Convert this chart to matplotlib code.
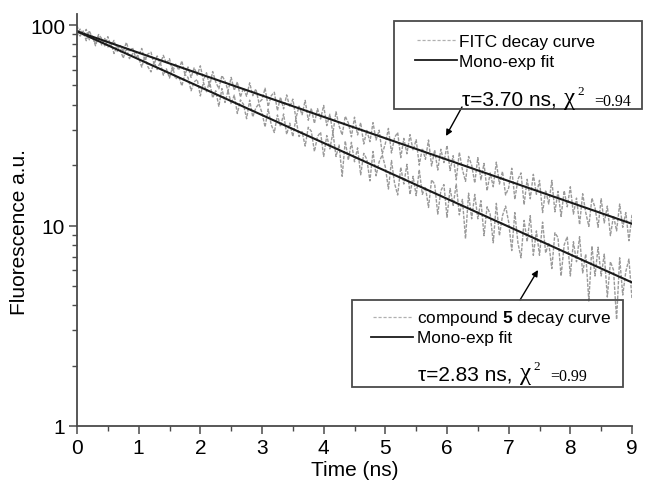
import numpy as np
import matplotlib
matplotlib.use("Agg")
import matplotlib.pyplot as plt
from matplotlib.patches import Rectangle
from matplotlib.lines import Line2D
from matplotlib.ticker import LogLocator, FixedLocator, NullFormatter, FuncFormatter

# ---- data -----------------------------------------------------------------
time_start, time_end = 0.0, 9.0

# FITC decay trace, one value every 0.05 ns
fitc_decay = [
    99.5, 88.0, 93.4, 83.5, 93.7, 85.9, 81.1, 89.7, 85.7, 78.7,
    87.5, 78.5, 83.8, 73.8, 79.0, 73.7, 81.9, 73.5, 77.2, 69.1,
    70.7, 76.4, 66.5, 71.7, 73.2, 63.7, 70.1, 64.0, 70.6, 64.2,
    67.9, 58.5, 63.8, 59.6, 66.2, 56.7, 61.8, 54.8, 61.2, 56.2,
    62.6, 52.8, 57.8, 49.4, 58.6, 52.0, 48.1, 56.0, 52.6, 46.9,
    54.8, 47.2, 52.0, 43.7, 48.5, 44.1, 51.5, 44.4, 48.0, 41.0,
    42.5, 48.4, 39.2, 44.4, 46.2, 37.4, 43.7, 38.2, 44.8, 39.0,
    42.7, 34.2, 39.4, 35.7, 42.1, 33.5, 38.4, 32.3, 38.3, 34.0,
    39.7, 31.5, 35.9, 28.9, 36.9, 31.4, 28.3, 35.1, 32.5, 27.7,
    34.7, 28.3, 32.6, 25.5, 29.8, 26.2, 32.6, 26.7, 29.9, 22.8,
    25.6, 30.5, 23.0, 27.5, 29.1, 21.8, 27.2, 22.8, 28.4, 23.7,
    26.8, 20.0, 24.3, 21.4, 26.7, 19.8, 23.8, 18.9, 24.0, 20.6,
    25.1, 18.8, 22.3, 16.9, 23.2, 19.0, 16.6, 22.1, 20.0, 16.3,
    21.8, 16.9, 20.4, 14.9, 18.3, 15.6, 20.7, 16.1, 18.6, 14.2,
    15.4, 19.3, 13.5, 17.0, 18.3, 12.7, 17.0, 13.6, 18.0, 14.3,
    16.8, 11.6, 15.0, 12.8, 16.8, 11.7, 14.8, 11.1, 14.9, 12.4,
    15.6, 11.4, 13.7, 10.1, 14.4, 11.6, 9.9, 13.7, 12.3, 9.8,
    13.6, 10.3, 12.5, 8.9, 11.2, 9.4, 12.8, 9.8, 11.6, 8.4,
    11.3,
]

# compound 5 decay trace, one value every 0.05 ns
cmpd_decay = [
    87.8, 95.4, 88.9, 95.1, 84.4, 87.9, 78.8, 88.0, 79.6, 85.7,
    77.5, 81.8, 72.1, 78.3, 75.5, 68.3, 76.7, 68.0, 71.8, 73.5,
    68.6, 61.7, 69.7, 61.9, 58.4, 65.5, 60.0, 65.3, 56.2, 60.4,
    54.4, 61.8, 53.8, 55.5, 49.7, 56.7, 54.8, 47.0, 52.1, 53.5,
    44.3, 51.8, 46.5, 52.4, 43.3, 47.0, 39.3, 48.2, 41.1, 47.1,
    40.3, 44.7, 36.2, 42.3, 40.2, 34.1, 42.2, 34.8, 38.6, 40.5,
    36.5, 31.0, 38.1, 31.8, 29.1, 35.6, 31.1, 36.0, 28.5, 32.4,
    27.8, 34.1, 27.8, 29.4, 24.9, 30.9, 29.5, 23.4, 27.8, 29.2,
    22.1, 28.1, 24.1, 29.1, 22.1, 25.2, 17.6, 26.4, 21.2, 26.0,
    20.8, 24.4, 17.9, 22.9, 21.4, 16.7, 23.4, 17.7, 20.8, 22.5,
    19.6, 15.2, 21.1, 16.2, 14.2, 19.5, 16.1, 20.2, 14.3, 17.6,
    14.1, 19.0, 14.3, 15.6, 12.3, 16.9, 16.1, 11.4, 14.9, 16.0,
    11.0, 15.3, 12.6, 16.1, 11.3, 13.5, 8.6, 14.5, 10.8, 14.3,
    10.8, 13.3, 8.9, 12.4, 11.4, 8.2, 12.9, 8.9, 11.2, 12.5,
    10.4, 7.5, 11.6, 8.2, 6.9, 10.6, 8.3, 11.2, 7.1, 9.4,
    7.1, 10.4, 7.3, 8.2, 6.1, 9.2, 8.7, 5.6, 8.0, 8.8,
    5.6, 8.3, 6.6, 8.8, 5.8, 7.2, 4.2, 7.9, 5.6, 7.8,
    5.6, 7.2, 4.4, 6.6, 6.0, 3.4, 6.9, 4.5, 5.9, 6.8,
    4.3,
]

# mono-exponential fits: straight lines on the log axis, end points only
fit_time = [0.0, 9.0]
fitc_fit = [93.0, 10.2]
cmpd_fit = [93.0, 5.2]

x_ticks = [0, 1, 2, 3, 4, 5, 6, 7, 8, 9]
y_ticks = [1, 10, 100]

fitc_label = "FITC decay curve"
cmpd_label = r"compound $\mathbf{5}$ decay curve"
fit_label = "Mono-exp fit"
fitc_tau, fitc_chi = "\u03c4=3.70 ns,", "=0.94"
cmpd_tau, cmpd_chi = "\u03c4=2.83 ns,", "=0.99"

# ---- style ----------------------------------------------------------------
plt.rcParams["font.family"] = ["Liberation Sans", "DejaVu Sans"]
plt.rcParams["mathtext.fontset"] = "custom"
plt.rcParams["mathtext.rm"] = "Liberation Sans"
plt.rcParams["mathtext.bf"] = "Liberation Sans:bold"

AXIS_GREY = "#4a4a4a"
DATA_GREY = "#9a9a9a"
FIT_BLACK = "#1a1a1a"
W, H = 646, 481

fig = plt.figure(figsize=(W / 100, H / 100), dpi=100)
ax = fig.add_axes([77 / W, 1 - 427 / H, (632 - 77) / W, (427 - 15) / H])

t = np.linspace(time_start, time_end, len(fitc_decay))
ax.plot(t, fitc_decay, color=DATA_GREY, lw=1.0, dashes=(2.5, 1.0))
ax.plot(t, cmpd_decay, color=DATA_GREY, lw=1.0, dashes=(2.5, 1.0))
ax.plot(fit_time, fitc_fit, color=FIT_BLACK, lw=1.5)
ax.plot(fit_time, cmpd_fit, color=FIT_BLACK, lw=1.5)

ax.set_yscale("log")
ax.set_xlim(0, 9)
ax.set_ylim(1, 113.5)
ax.xaxis.set_major_locator(FixedLocator(x_ticks))
ax.xaxis.set_minor_locator(FixedLocator(np.arange(0.5, 9, 1.0)))
ax.yaxis.set_major_locator(FixedLocator(y_ticks))
ax.yaxis.set_major_formatter(FuncFormatter(lambda v, _: f"{v:g}"))
ax.yaxis.set_minor_locator(LogLocator(base=10, subs=np.arange(2, 10)))
ax.yaxis.set_minor_formatter(NullFormatter())

for side in ("top", "right"):
    ax.spines[side].set_visible(False)
for side in ("left", "bottom"):
    ax.spines[side].set_color(AXIS_GREY)
    ax.spines[side].set_linewidth(1.3)
ax.tick_params(which="major", direction="out", length=5.5, width=1.1,
               color=AXIS_GREY, labelsize=15, pad=3)
ax.tick_params(which="minor", direction="out", length=3.5, width=1.0,
               color=AXIS_GREY)
ax.set_xlabel("Time (ns)", fontsize=15, labelpad=2)
ax.set_ylabel("Fluorescence a.u.", fontsize=15)
ax.yaxis.set_label_coords(-0.086, 0.473)


def px(x, y):
    """top-left pixel position -> figure fraction"""
    return x / W, 1 - y / H


def legend_box(left, top, right, bottom, label, tau, chi, rows):
    (x0, y0), (x1, y1) = px(left, bottom), px(right, top)
    fig.add_artist(Rectangle((x0, y0), x1 - x0, y1 - y0, transform=fig.transFigure,
                             fill=False, edgecolor=AXIS_GREY, lw=1.3))
    (sx, dash_y, solid_y, tx, tau_x, tau_y) = rows
    xa, ya = px(sx, dash_y)
    xb, _ = px(sx + 40, dash_y)
    fig.add_artist(Line2D([xa, xb], [ya, ya], transform=fig.transFigure,
                          color="#b0b0b0", lw=0.9, dashes=(2.5, 1.5)))
    _, yb = px(sx, solid_y)
    fig.add_artist(Line2D([xa - 2 / W, xb], [yb, yb], transform=fig.transFigure,
                          color=FIT_BLACK, lw=1.3))
    fig.text(*px(tx, dash_y + 5.5), label, fontsize=12.4, va="baseline")
    fig.text(*px(tx, solid_y + 5.5), fit_label, fontsize=12.4, va="baseline")
    fig.text(*px(tau_x, tau_y), tau, fontsize=15, va="baseline")
    fig.text(*px(tau_x + 102, tau_y - 1), "\u03c7", fontsize=18,
             family="Liberation Serif", va="baseline")
    fig.text(*px(tau_x + 115, tau_y - 11), "2", fontsize=9.5,
             family="Liberation Serif", va="baseline")
    fig.text(*px(tau_x + 132, tau_y), chi, fontsize=11.5,
             family="Liberation Serif", va="baseline")


legend_box(394, 22, 642, 110, fitc_label, fitc_tau, fitc_chi,
           (417, 41, 61, 459, 462, 106))
legend_box(352, 301, 623, 388, cmpd_label, cmpd_tau, cmpd_chi,
           (373, 318, 338, 417, 418, 381))

arrow = dict(arrowstyle="-|>", color="black", lw=1.0, mutation_scale=9,
             shrinkA=0, shrinkB=0)
ax.annotate("", xy=(446, H - 137), xytext=(462, H - 108),
            xycoords="figure pixels", textcoords="figure pixels", arrowprops=arrow)
ax.annotate("", xy=(538, H - 271), xytext=(520, H - 301),
            xycoords="figure pixels", textcoords="figure pixels", arrowprops=arrow)

fig.savefig("out.png", dpi=100, facecolor="white")
